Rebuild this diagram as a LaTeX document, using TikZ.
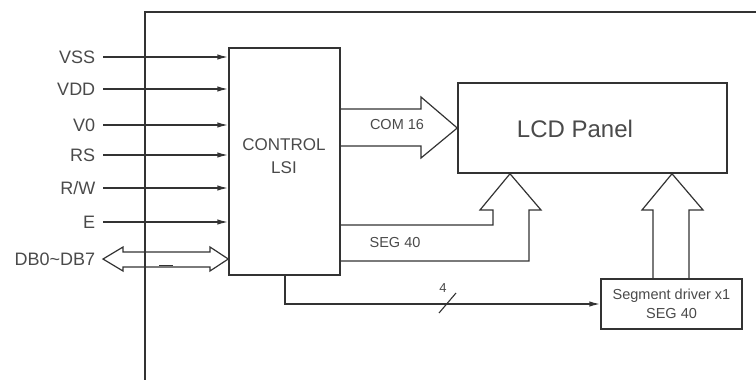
\documentclass[tikz,border=0pt]{standalone}
\usepackage{fontspec}
\setmainfont{Liberation Sans}
\usetikzlibrary{arrows.meta,calc}
\definecolor{ln}{HTML}{333333}
\definecolor{tx}{HTML}{4A4A4A}
\begin{document}
\begin{tikzpicture}[x=1pt,y=-1pt,
  line width=1.5pt,
  ln/.style={draw=ln},
  sig/.style={text=tx,font=\fontsize{18}{20}\selectfont,anchor=east,inner xsep=7pt,inner ysep=0pt},
  small/.style={text=tx,font=\fontsize{14.5}{17}\selectfont,inner sep=0pt},
  boxs/.style={draw=ln,inner sep=0pt},
  tip/.style={-{Latex[length=11pt,width=5.5pt]}}
]
\useasboundingbox (0,0) rectangle (756,380);
% frame
\coordinate (ftop) at (756,12);
\coordinate (fbot) at (145,380);
\draw[ln] (fbot) |- (ftop);
% boxes
\node[boxs,minimum width=111pt,minimum height=227pt] (lsi) at (284.5,161.5) {};
\node[text=tx,font=\fontsize{17}{23}\selectfont,align=center] (lsit) at (284,156) {CONTROL\\LSI};
\node[boxs,minimum width=269pt,minimum height=90pt] (lcd) at (592.5,128) {};
\node[text=tx,font=\fontsize{24}{26}\selectfont] (lcdt) at (575,129) {LCD Panel};
\node[boxs,minimum width=141pt,minimum height=50pt,align=center,text=tx,font=\fontsize{14.5}{19}\selectfont] (seg) at (671.5,304) {Segment driver x1\\SEG 40};
% signals
\foreach \n/\t/\y in {vss/VSS/57,vdd/VDD/89,vz/V0/125,rs/RS/155,rw/R\slash W/188,e/E/222}{
  \node[sig] (\n) at (103,\y) {\t};
  \draw[ln,tip] (\n.east) -- (lsi.west |- \n.east);
}
\node[sig] (db) at (103,259) {DB0\textasciitilde DB7};
\draw[ln,line width=1.2pt] (db.east) -- (123,247) -- (123,252) -- (210,252) -- (210,247) -- (lsi.west |- db.east)
  -- (210,271) -- (210,267) -- (123,267) -- (123,271) -- cycle;
\draw[ln,line width=1.8pt] (159,265.5) -- (173,265.5);
% COM 16
\draw[ln,line width=1.2pt] (lsi.east |- 0,109) -- (421,109) -- (421,97) -- (lcd.west) -- (421,158) -- (421,146) -- (lsi.east |- 0,146);
\node[small] (com) at (397,125) {COM 16};
% SEG 40 from LSI
\draw[ln,line width=1.2pt] (lsi.east |- 0,225) -- (493,225) -- (493,210) -- (480,210) -- (lcd.south -| 510,0) -- (541,210) -- (529,210) -- (529,261) -- (lsi.east |- 0,261);
\node[small] (seg1) at (395,243) {SEG 40};
% Segment driver to LCD
\draw[ln,line width=1.2pt] (seg.north -| 653,0) -- (653,210) -- (642,210) -- (lcd.south -| 672,0) -- (703,210) -- (689,210) -- (seg.north -| 689,0);
% bus from LSI to segment driver
\draw[ln,tip] (lsi.south -| 285,0) |- (seg.west);
\coordinate (s1) at (439,313);
\coordinate (s2) at (456,293);
\draw[ln,line width=1.1pt] (s1) -- (s2);
\node[small,font=\fontsize{13}{15}\selectfont] (four) at (443,288) {4};
\end{tikzpicture}
\end{document}
